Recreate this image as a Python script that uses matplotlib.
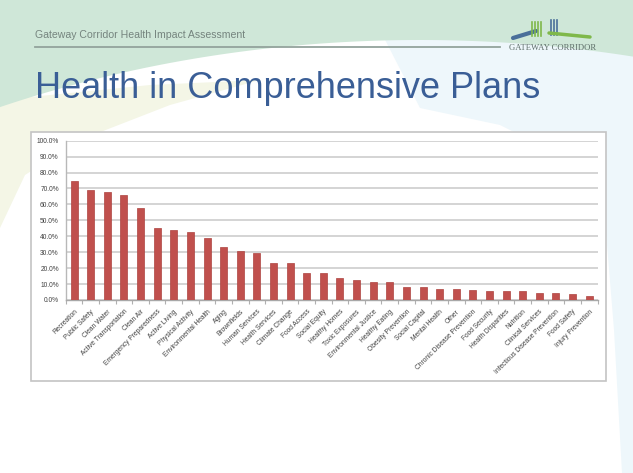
import numpy as np
import matplotlib
matplotlib.use('Agg')
import matplotlib.pyplot as plt
from matplotlib.patches import Rectangle, Polygon

# data
categories = ['Recreation', 'Public Safety', 'Clean Water', 'Active Transportation', 'Clean Air',
              'Emergency Preparedness', 'Active Living', 'Physical Activity', 'Environmental Health',
              'Aging', 'Brownfields', 'Human Services', 'Health Services', 'Climate Change',
              'Food Access', 'Social Equity', 'Healthy Homes', 'Toxic Exposures',
              'Environmental Justice', 'Healthy Eating', 'Obesity Prevention', 'Social Capital',
              'Mental Health', 'Other', 'Chronic Disease Prevention', 'Food Security',
              'Health Disparities', 'Nutrition', 'Clinical Services',
              'Infectious Disease Prevention', 'Food Safety', 'Injury Prevention']
values = [75.0, 69.0, 68.0, 66.0, 57.5, 45.5, 44.0, 42.5, 39.0, 33.5, 30.5, 29.5, 23.5, 23.0,
          17.0, 17.0, 14.0, 12.5, 11.5, 11.0, 8.0, 8.0, 7.2, 6.8, 6.0, 5.5, 5.5, 5.5, 4.7,
          4.7, 4.0, 2.2]
ytick_vals = np.arange(0, 101, 10)

W, H = 633, 473
fig = plt.figure(figsize=(W / 100, H / 100), dpi=100)

# slide background
bg = fig.add_axes([0, 0, 1, 1])
bg.set_xlim(0, W)
bg.set_ylim(H, 0)
bg.axis('off')
bg.add_patch(Rectangle((0, 0), W, H, color='white', zorder=0))

# light blue area on the right
blue = [(380, 30), (W, 30), (W, H), (622, H), (614, 330), (605, 220), (570, 160), (500, 125), (420, 108)]
bg.add_patch(Polygon(blue, closed=True, color='#eef7fb', lw=0, zorder=1))

# beige wedge on the left
beige = [(0, 100), (0, 228), (25, 175), (80, 140), (170, 105), (260, 80), (150, 85)]
bg.add_patch(Polygon(beige, closed=True, color='#f4f6e6', lw=0, zorder=1))

# green band with the white arc
xs = np.linspace(0, W, 200)
cx, cy, a, b = 420, 700, 956, 660
ys = cy - b * np.sqrt(np.clip(1 - ((xs - cx) / a) ** 2, 0, 1))
green = [(0, 0)] + list(zip(xs, ys)) + [(W, 0)]
bg.add_patch(Polygon(green, closed=True, color='#cfe7d8', lw=0, zorder=2))

# header
bg.text(35, 38, 'Gateway Corridor Health Impact Assessment', fontsize=7.6, color='#75847e',
        family='Liberation Sans', va='baseline', zorder=5)
bg.plot([35, 500], [47, 47], color='#93a39c', lw=1.3, zorder=5)
bg.text(553, 50, 'GATEWAY CORRIDOR', fontsize=6.2, color='#5d6d68', family='Liberation Serif',
        ha='center', va='baseline', zorder=5)
# small logo marks
bg.plot([513, 536], [38, 31], color='#4a6f9a', lw=3, solid_capstyle='round', zorder=5)
for xx in [532, 535, 538, 541]:
    bg.plot([xx, xx], [22, 36], color='#7fb84a', lw=1.2, zorder=5)
for xx in [551, 554, 557]:
    bg.plot([xx, xx], [20, 35], color='#4a6f9a', lw=1.2, zorder=5)
bg.plot([549, 590], [33, 37], color='#7fb84a', lw=2.5, solid_capstyle='round', zorder=5)

# title
bg.text(35, 98, 'Health in Comprehensive Plans', fontsize=26, color='#3a5e96',
        family='Liberation Sans', va='baseline', zorder=5)

# chart frame
bg.add_patch(Rectangle((31, 132), 575, 249, facecolor='white', edgecolor='#c4c4c4',
                       lw=1.2, zorder=4))

# chart
ax = fig.add_axes([65.8 / W, 1 - 300 / H, (597.5 - 65.8) / W, (300 - 140.7) / H])
ax.patch.set_alpha(0)
x = np.arange(len(categories))
ax.bar(x, values, width=0.42, color='#c0504d', edgecolor='#ad4340', lw=0.5, zorder=3)
ax.set_xlim(-0.5, len(categories) - 0.5)
ax.set_ylim(0, 100)
ax.set_yticks(ytick_vals)
ax.set_yticklabels(['%.1f%%' % v for v in ytick_vals], fontsize=4.8, color='#404040',
                   family='Liberation Sans')
ax.yaxis.grid(True, color='#cdcdcd', lw=1.2, zorder=0)
ax.set_axisbelow(True)
ax.tick_params(axis='y', length=0, pad=5)
ax.set_xticks(x)
ax.set_xticklabels(categories, rotation=45, ha='right', va='top', rotation_mode='anchor',
                   fontsize=4.8, color='#404040', family='Liberation Sans')
ax.tick_params(axis='x', length=0, pad=6)
ax.set_xticks(np.arange(-0.5, len(categories), 1), minor=True)
ax.tick_params(axis='x', which='minor', length=3, color='#b0b0b0', width=0.8)
for s in ['top', 'right']:
    ax.spines[s].set_visible(False)
ax.spines['left'].set_color('#b8b8b8')
ax.spines['bottom'].set_color('#a8a8a8')
ax.spines['left'].set_linewidth(1)
ax.spines['bottom'].set_linewidth(1)

fig.savefig('out.png', dpi=100)
